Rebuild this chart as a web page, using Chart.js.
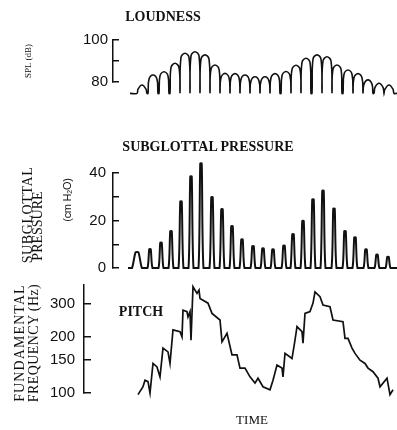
<!DOCTYPE html>
<html>
<head>
<meta charset="utf-8">
<script src="https://cdn.jsdelivr.net/npm/chart.js@4.4.1/dist/chart.umd.min.js"></script>
<style>
  body { margin: 0; background: #fff; }
  #wrap { position: relative; width: 397px; height: 430px; overflow: hidden; }
  canvas { position: absolute; left: 0; }
  .t { position: absolute; font-family: "Liberation Serif", serif; color: #111; white-space: nowrap; transform: translate(-50%, -50%); }
  .h { font-weight: bold; font-size: 14px; }
  .rot { transform: translate(-50%, -50%) rotate(-90deg); }
</style>
</head>
<body>
<div id="wrap">
  <canvas id="loud" width="397" height="110" style="top:0"></canvas>
  <canvas id="press" width="397" height="140" style="top:150px"></canvas>
  <canvas id="pitch" width="397" height="170" style="top:260px"></canvas>

  <div class="t h" style="left:163px; top:17px">LOUDNESS</div>
  <div class="t rot" style="left:28px; top:61px; font-size:9px">SPL (dB)</div>

  <div class="t h" style="left:208px; top:147px">SUBGLOTTAL PRESSURE</div>
  <div class="t rot" style="left:28px; top:215px; font-size:14px; letter-spacing:0.6px">SUBGLOTTAL</div>
  <div class="t rot" style="left:38px; top:226px; font-size:14px">PRESSURE</div>
  <div class="t rot" style="left:67px; top:200px; font-size:11px; font-family:'Liberation Sans',sans-serif; letter-spacing:-0.3px">(cm H₂O)</div>

  <div class="t h" style="left:141px; top:312px">PITCH</div>
  <div class="t rot" style="left:20px; top:343px; font-size:14px; letter-spacing:1.1px">FUNDAMENTAL</div>
  <div class="t rot" style="left:34px; top:343px; font-size:14px; letter-spacing:0.4px">FREQUENCY (Hz)</div>
  <div class="t" style="left:252px; top:420px; font-size:13px">TIME</div>
</div>

<script>
// time is in arbitrary units along the common horizontal axis
const loudTimes = [14, 25, 36, 47, 57, 67, 77, 87, 97, 107, 117, 127, 137, 147, 158, 168, 178, 189, 199, 209, 220, 230, 240, 251, 261];
const loudPeaks = [78.6, 83.3, 84.9, 88.9, 93.7, 94.4, 92.9, 88.1, 84.1, 84.0, 83.3, 82.5, 82.5, 84.0, 85.0, 88.0, 91.3, 92.9, 92.0, 88.1, 85.7, 84.0, 81.0, 79.4, 78.6];
const loudFloor = 74.6;

const pressTimes = [9, 22, 33, 43, 53, 63, 73, 84, 94, 104, 114, 125, 135, 145, 156, 165, 175, 185, 195, 206, 217, 227, 238, 249, 260];
const pressPeaks = [6.6, 7.9, 10.7, 15.5, 28, 38.5, 44, 29.8, 24.7, 17.6, 12, 9.2, 8.2, 7.8, 9.4, 14.2, 19.8, 28.9, 32.5, 25, 15.5, 12.9, 7.8, 5.6, 4.7];
const pressDur = [10, 5, 5, 5, 5, 5, 5, 5, 5, 5, 5, 5, 5, 5, 5, 5, 5, 5, 5, 5, 5, 5, 5, 5, 5];

const pitchTimes = [10, 15, 17, 20, 22, 25, 29, 32, 35, 40, 42, 45, 52, 54, 55, 59, 60, 62, 63, 65, 69, 71, 72, 80, 84, 92, 94, 99, 104, 109, 112, 117, 122, 127, 130, 135, 142, 145, 149, 154, 155, 157, 164, 167, 169, 174, 175, 177, 182, 185, 187, 192, 195, 202, 205, 215, 217, 220, 224, 227, 232, 237, 240, 245, 250, 252, 259, 262, 265];
const pitchHz = [98, 108, 117, 115, 100, 144, 138, 122, 174, 166, 144, 218, 213, 200, 278, 273, 256, 273, 192, 371, 342, 356, 321, 303, 267, 246, 188, 209, 160, 160, 136, 136, 122, 113, 120, 108, 104, 117, 141, 136, 122, 163, 153, 192, 227, 213, 185, 267, 273, 303, 348, 328, 296, 290, 246, 241, 196, 196, 174, 163, 150, 144, 136, 130, 120, 108, 120, 98, 104];

const tStart = 0, tEnd = 269;

function loudSeries() {
    const pts = [{x: 2, y: loudFloor}];
    loudTimes.forEach((c, i) => {
        const p = loudPeaks[i];
        pts.push({x: c - 5, y: loudFloor}, {x: c - 4, y: p - 2}, {x: c, y: p}, {x: c + 4, y: p - 2}, {x: c + 5, y: loudFloor});
    });
    pts.push({x: tEnd, y: loudFloor});
    return pts;
}

function pressSeries() {
    const pts = [{x: tStart, y: 0}];
    pressTimes.forEach((c, i) => {
        const p = pressPeaks[i], h = pressDur[i] / 2;
        pts.push({x: c - h, y: 0}, {x: c - h * 0.3, y: p}, {x: c + h * 0.3, y: p}, {x: c + h, y: 0});
    });
    pts.push({x: tEnd, y: 0});
    return pts;
}

const ink = '#111';
const tickFont = {family: "'Liberation Sans', Arial, sans-serif", size: 15};

function makeChart(id, data, yScale, axisLeft, pad, tension, lw) {
    return new Chart(document.getElementById(id), {
        type: 'line',
        data: {
            datasets: [{
                data: data,
                borderColor: ink,
                borderWidth: lw,
                pointRadius: 0,
                tension: tension,
                clip: false
            }]
        },
        options: {
            responsive: false,
            animation: false,
            layout: {padding: {top: pad[0], bottom: pad[1], left: 0, right: 0}},
            plugins: {legend: {display: false}, tooltip: {enabled: false}},
            scales: {
                // the data area starts at the axis line, so the time range starts left of 0
                x: {type: 'linear', display: false, min: axisLeft - 128, max: tEnd},
                y: Object.assign({
                    position: 'left',
                    afterFit: s => { s.width = axisLeft; },
                    border: {display: true, color: ink, width: 1.5},
                    grid: {drawOnChartArea: false, drawTicks: true, tickLength: -6, color: ink, lineWidth: 1.5}
                }, yScale)
            }
        }
    });
}

// loudness panel
makeChart('loud', loudSeries(), {
    min: 80, max: 100,
    afterBuildTicks: s => { s.ticks = [80, 90, 100].map(v => ({value: v})); },
    ticks: {color: ink, font: tickFont, padding: 11, autoSkip: false, callback: v => (v === 90 ? '' : v)}
}, 113, [40, 28], 0.4, 1.6);

// subglottal pressure panel
makeChart('press', pressSeries(), {
    min: 0, max: 40,
    afterBuildTicks: s => { s.ticks = [0, 10, 20, 30, 40].map(v => ({value: v})); },
    ticks: {color: ink, font: tickFont, padding: 13, autoSkip: false, callback: v => (v % 20 === 0 ? v : '')}
}, 113, [23, 14], 0.2, 2);

// pitch panel (log frequency axis)
makeChart('pitch', pitchTimes.map((t, i) => ({x: t, y: pitchHz[i]})), {
    type: 'logarithmic',
    min: 100, max: 379,
    afterBuildTicks: s => { s.ticks = [100, 150, 200, 300].map(v => ({value: v})); },
    grid: {drawOnChartArea: false, drawTicks: true, tickLength: -7, color: ink, lineWidth: 1.5},
    ticks: {color: ink, font: tickFont, padding: 16, autoSkip: false, callback: v => String(v)}
}, 84, [25, 37], 0, 1.7);
</script>
</body>
</html>
